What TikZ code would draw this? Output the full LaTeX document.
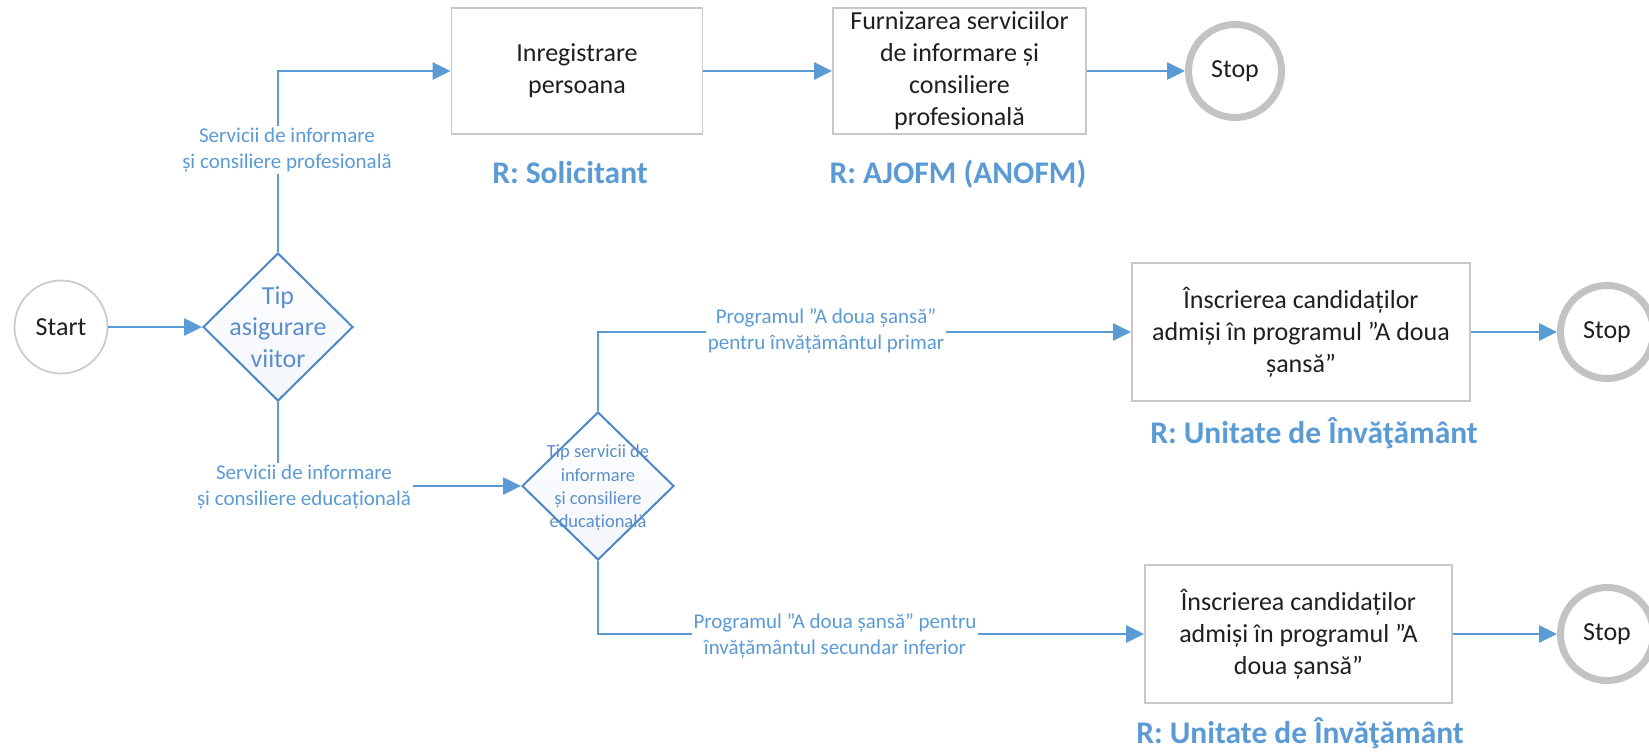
\documentclass[tikz,border=0pt]{standalone}
\usepackage{fontspec}
\setmainfont{Carlito}
\usetikzlibrary{shapes.geometric,arrows.meta}
\definecolor{lblue}{HTML}{5B9BD5}
\definecolor{dblue}{HTML}{4F86C6}
\definecolor{tblue}{HTML}{5A8FCB}
\definecolor{boxgray}{HTML}{C8C8C8}
\definecolor{ringgray}{HTML}{C3C3C3}
\definecolor{dfill}{HTML}{F2F5FB}
\begin{document}
\begin{tikzpicture}[x=1pt,y=-1pt,
  conn/.style={draw=lblue, line width=2.6pt, -{Triangle[length=18pt,width=17pt]}},
  proc/.style={rectangle, draw=boxgray, line width=1.8pt, fill=white, align=center,
    font=\fontsize{26}{32}\selectfont, text=black!88, inner sep=0pt},
  startc/.style={circle, draw=gray!40, line width=1.8pt, fill=white, minimum size=93pt,
    inner sep=0pt, font=\fontsize{26}{32}\selectfont, text=black!88},
  stopc/.style={circle, draw=ringgray, line width=7pt, fill=white, minimum size=93pt,
    inner sep=0pt, font=\fontsize{26}{32}\selectfont, text=black!88},
  dec/.style={diamond, draw=dblue, line width=2pt, top color=white, bottom color=dfill,
    inner sep=0pt},
  dtxt/.style={align=center, text=tblue, inner sep=0pt},
  lab/.style={fill=white, text=lblue, align=center, inner sep=2pt,
    font=\fontsize{21}{26}\selectfont},
  ttl/.style={text=lblue, inner sep=0pt, font=\bfseries\fontsize{31.5}{36}\selectfont}
]
\useasboundingbox (0,0) rectangle (1649,752);

% nodes
\node[startc] (start) at (61,327) {Start};
\node[dec, minimum width=150pt, minimum height=148pt] (d1) at (278,327) {};
\node[dtxt, font=\fontsize{26}{31.5}\selectfont] (d1t) at (d1.center) {Tip\\asigurare\\viitor};
\node[proc, minimum width=251pt, minimum height=126pt] (b1) at (577,71) {Inregistrare\\persoana};
\node[proc, minimum width=253pt, minimum height=126pt] (b2) at (959.5,71) {Furnizarea serviciilor\\de informare și\\consiliere\\profesională};
\node[stopc] (s1) at (1235,71) {Stop};
\node[dec, minimum width=152pt, minimum height=148pt] (d2) at (598,486) {};
\node[dtxt, font=\fontsize{18.5}{23.3}\selectfont] (d2t) at (598,488) {Tip servicii de\\informare\\și consiliere\\educațională};
\node[proc, minimum width=338pt, minimum height=138pt] (b3) at (1301,332) {Înscrierea candidaților\\admiși în programul ”A doua\\șansă”};
\node[stopc] (s2) at (1607,332) {Stop};
\node[proc, minimum width=307pt, minimum height=138pt] (b4) at (1298.5,634) {Înscrierea candidaților\\admiși în programul ”A\\doua șansă”};
\node[stopc] (s3) at (1607,634) {Stop};

% connectors
\draw[conn] (start) -- (d1);
\draw[conn] (d1.north) |- (b1.west);
\draw[conn] (b1) -- (b2);
\draw[conn] (b2) -- (s1);
\draw[conn] (d1.south) |- (d2.west);
\draw[conn] (d2.north) |- (b3.west);
\draw[conn] (b3) -- (s2);
\draw[conn] (d2.south) |- (b4.west);
\draw[conn] (b4) -- (s3);

% connector labels
\node[lab] (l1) at (287,150) {Servicii de informare\\și consiliere profesională};
\node[lab] (l2) at (304,487) {Servicii de informare\\și consiliere educațională};
\node[lab] (l3) at (826,331) {Programul ”A doua șansă”\\pentru învățământul primar};
\node[lab] (l4) at (835,636) {Programul ”A doua șansă” pentru\\învățământul secundar inferior};

% responsible titles
\node[ttl, anchor=base] (t1) at (570,183) {R: Solicitant};
\node[ttl, anchor=base] (t2) at (958,183) {R: AJOFM (ANOFM)};
\node[ttl, anchor=base] (t3) at (1314,443) {R: Unitate de Învăţământ};
\node[ttl, anchor=base] (t4) at (1300,743) {R: Unitate de Învăţământ};
\end{tikzpicture}
\end{document}
